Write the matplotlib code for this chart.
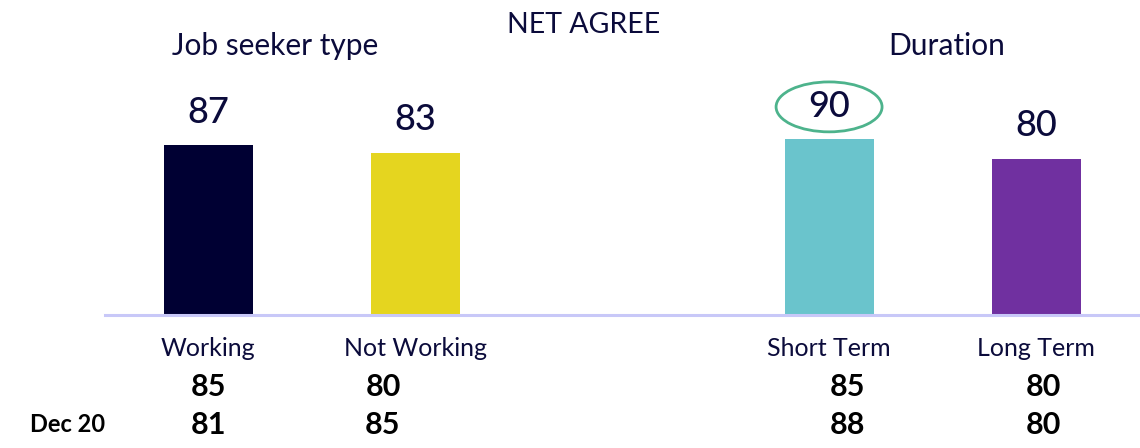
import matplotlib
matplotlib.use("Agg")
import matplotlib.pyplot as plt
from matplotlib.patches import Ellipse

categories = ["Working", "Not Working", "Short Term", "Long Term"]
net_agree = [87, 83, 90, 80]
row_prev = [85, 80, 85, 80]
row_dec20 = [81, 85, 88, 80]
groups = ["Job seeker type", "Duration"]
colors = ["#000033", "#E5D51F", "#6AC4CC", "#7030A0"]

navy = "#0B0B3B"
plt.rcParams["font.family"] = ["Lato", "DejaVu Sans"]

fig = plt.figure(figsize=(11.4, 4.48), dpi=100)
ax = fig.add_axes([0, 0, 1, 1])
ax.set_xlim(-1.005, 4.502)
ax.set_ylim(-68.2, 161.5)
ax.axis("off")

pos = [0, 1, 3, 4]
ax.bar(pos, net_agree, width=0.43, color=colors, zorder=2)
ax.plot([-0.5, 4.502], [0, 0], color="#C8C8F8", lw=2.2, zorder=3)

for x, v in zip(pos, net_agree):
    ax.text(x, v + 17, str(v), ha="center", va="center", fontsize=26,
            color=navy, fontweight="medium")

# highlight the short term value
ax.add_patch(Ellipse((3, 106.7), 0.512, 25.6, fill=False,
                     edgecolor="#4DB38C", lw=2))

for x, c in zip(pos, categories):
    ax.text(x, -17.4, c, ha="center", va="center", fontsize=18, color=navy)

prev_x = [0, 0.845, 3.087, 4.034]
for x, v in zip(prev_x, row_prev):
    ax.text(x, -36.9, str(v), ha="center", va="center", fontsize=22,
            color="black", fontweight="bold")
for x, v in zip(prev_x, row_dec20):
    ax.text(x, -56.4, str(v), ha="center", va="center", fontsize=22,
            color="black", fontweight="bold")
ax.text(-0.86, -56.4, "Dec 20", ha="left", va="center", fontsize=17,
        fontweight="bold", color="black")

ax.text(1.812, 148.7, "NET AGREE", ha="center", va="center", fontsize=20.5,
        color=navy)
ax.text(0.324, 138, groups[0], ha="center", va="center", fontsize=21.5,
        color=navy)
ax.text(3.57, 138, groups[1], ha="center", va="center", fontsize=21.5,
        color=navy)

fig.savefig("out.png", dpi=100)
